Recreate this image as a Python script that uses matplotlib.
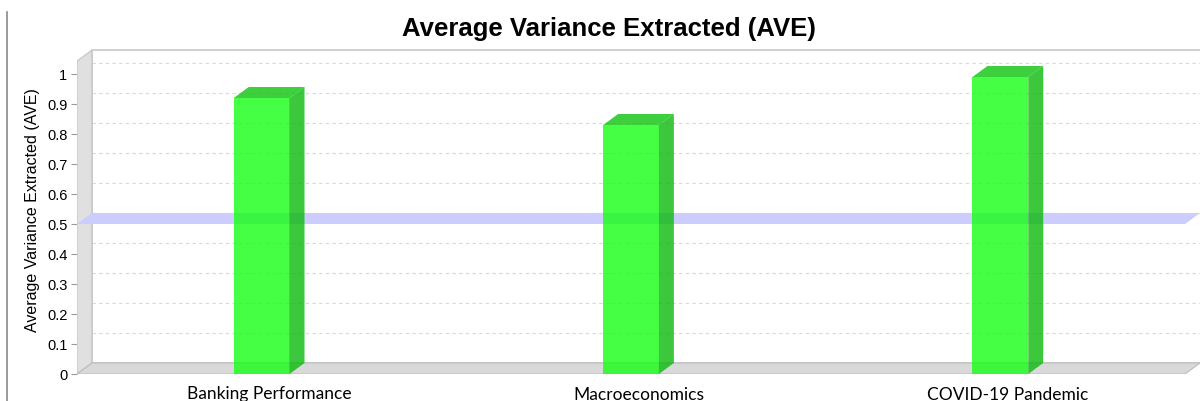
import numpy as np
import matplotlib
matplotlib.use("Agg")
import matplotlib.pyplot as plt
from matplotlib.patches import Polygon, Rectangle
from matplotlib.lines import Line2D

# data
categories = ["Banking Performance", "Macroeconomics", "COVID-19 Pandemic"]
ave_values = [0.92, 0.83, 0.99]
threshold = 0.5
y_ticks = [0, 0.1, 0.2, 0.3, 0.4, 0.5, 0.6, 0.7, 0.8, 0.9, 1.0]
y_ticklabels = ["0", "0.1", "0.2", "0.3", "0.4", "0.5", "0.6", "0.7", "0.8", "0.9", "1"]

# 3d look
dx, dy = 0.0405, 0.0367   # depth offset in data units
bw = 0.151
ytop = 1.043
x_left, x_right = -0.5, 2.5

fig = plt.figure(figsize=(12, 4.01), dpi=100)
ax = fig.add_axes([77 / 1200, 27 / 401, 1123 / 1200, 1.09 * 300 / 401])
ax.set_xlim(x_left, x_right + dx)
ax.set_ylim(0, 1.09)
for s in ax.spines.values():
    s.set_visible(False)

# back wall
ax.add_patch(Rectangle((x_left + dx, dy), x_right + 1, ytop, facecolor="white",
                       edgecolor="#c8c8c8", lw=1.2, zorder=0))
for t in y_ticks[1:]:
    ax.plot([x_left + dx, x_right + 1], [t + dy, t + dy], color="#d8d8d8",
            lw=0.8, ls=(0, (3, 3)), zorder=1)

# left wall
ax.add_patch(Polygon([(x_left, 0), (x_left + dx, dy), (x_left + dx, ytop + dy), (x_left, ytop)],
                     closed=True, facecolor="#e0e0e0", edgecolor="#c4c4c4", lw=0.8, zorder=2))
# floor
ax.add_patch(Polygon([(x_left, 0), (x_right, 0), (x_right + dx, dy), (x_left + dx, dy)],
                     closed=True, facecolor="#d9d9d9", edgecolor="#bdbdbd", lw=0.8, zorder=2))

# threshold band
ax.add_patch(Polygon([(x_left, threshold), (x_right, threshold), (x_right + dx, threshold + dy),
                      (x_left + dx, threshold + dy)],
                     closed=True, facecolor="#ccccff", edgecolor="none", zorder=3))

# bars
xs = np.arange(len(categories))
ax.bar(xs, ave_values, width=bw, color=(21 / 255, 1, 21 / 255), alpha=0.8, zorder=4,
       linewidth=0)
for x, v in zip(xs, ave_values):
    r = x + bw / 2
    l = x - bw / 2
    ax.add_patch(Polygon([(r, 0), (r + dx, dy), (r + dx, v + dy), (r, v)], closed=True,
                         facecolor=(11 / 255, 186 / 255, 11 / 255), alpha=0.8, lw=0, zorder=4))
    ax.add_patch(Polygon([(l, v), (r, v), (r + dx, v + dy), (l + dx, v + dy)], closed=True,
                         facecolor=(14 / 255, 195 / 255, 14 / 255), alpha=0.8, lw=0, zorder=4))

# axes ticks
ax.set_yticks(y_ticks)
ax.set_yticklabels(y_ticklabels, fontfamily="Liberation Sans", fontsize=10.5)
ax.tick_params(axis="y", length=4, color="#999999", pad=3)
ax.set_xticks(xs + dx / 2)
ax.set_xticklabels(categories, fontfamily="Lato", fontsize=12.5)
ax.tick_params(axis="x", length=0, pad=9)
ax.set_ylabel("Average Variance Extracted (AVE)", fontfamily="Liberation Sans", fontsize=11.5,
              labelpad=5)

fig.text(609 / 1200, 1 - 29 / 401, "Average Variance Extracted (AVE)", ha="center", va="center",
         fontfamily="Liberation Sans", fontweight="bold", fontsize=18.5)

fig.add_artist(Line2D([7 / 1200, 7 / 1200], [0, 1 - 12 / 401], color="#8a8a8a", lw=1.2))

fig.savefig("out.png", dpi=100)
